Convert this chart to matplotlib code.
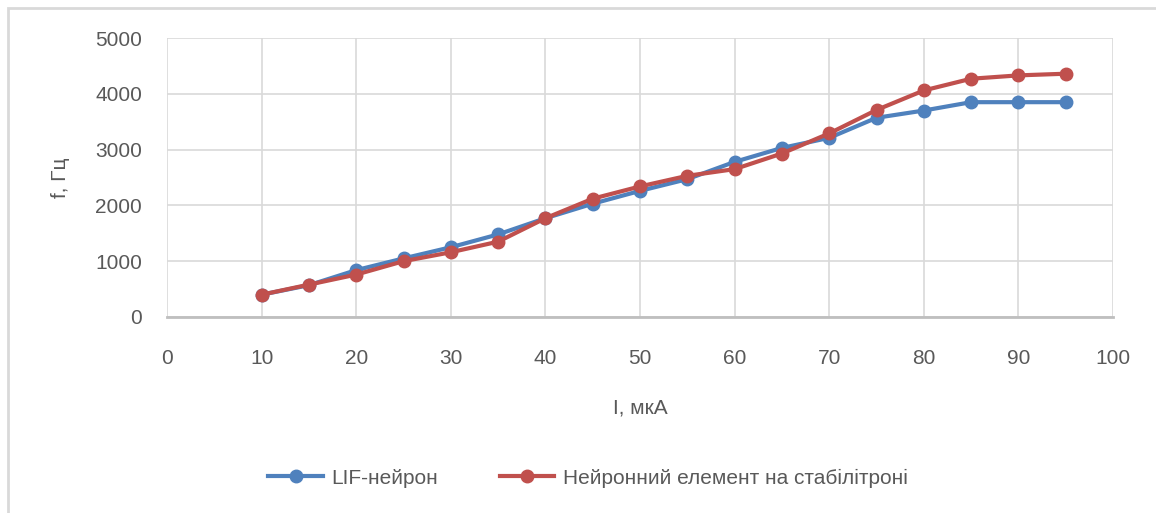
import matplotlib
matplotlib.use("Agg")
import matplotlib.pyplot as plt
from matplotlib.patches import Rectangle

# Current, uA
current = [10, 15, 20, 25, 30, 35, 40, 45, 50, 55, 60, 65, 70, 75, 80, 85, 90, 95]
# LIF-neuron frequency, Hz
lif_freq = [400, 570, 840, 1050, 1250, 1480, 1770, 2030, 2260, 2470, 2780, 3030, 3210, 3570, 3700, 3850, 3850, 3850]
# Zener-diode neuron element frequency, Hz
zener_freq = [400, 580, 760, 1000, 1160, 1350, 1770, 2120, 2340, 2530, 2650, 2930, 3290, 3710, 4060, 4270, 4330, 4360]

x_ticks = [0, 10, 20, 30, 40, 50, 60, 70, 80, 90, 100]
y_ticks = [0, 1000, 2000, 3000, 4000, 5000]

W, H = 1156, 513
fig = plt.figure(figsize=(W / 100, H / 100), dpi=100)
plt.rcParams["font.family"] = ["Liberation Sans", "DejaVu Sans"]

# chart frame (right/bottom edges fall outside the crop)
fig.patches.append(Rectangle((8 / W, -0.1), 1.2, 1 - 8 / H + 0.1, transform=fig.transFigure,
                             fill=False, edgecolor="#D9D9D9", linewidth=2))

left, right, top, bottom = 167, 1113, 38, 317
ax = fig.add_axes([left / W, 1 - bottom / H, (right - left) / W, (bottom - top) / H])

blue = "#4F81BD"
red = "#C0504D"
ax.plot(current, lif_freq, color=blue, lw=3, marker="o", ms=9, label="LIF-нейрон", zorder=3)
ax.plot(current, zener_freq, color=red, lw=3, marker="o", ms=9,
        label="Нейронний елемент на стабілітроні", zorder=4)

ax.set_xlim(0, 100)
ax.set_ylim(0, 5000)
ax.set_xticks(x_ticks)
ax.set_yticks(y_ticks)
ax.grid(True, color="#D9D9D9", linewidth=1.2)
ax.set_axisbelow(True)
for side in ["top", "right", "left"]:
    ax.spines[side].set_visible(False)
ax.spines["bottom"].set_color("#BFBFBF")
ax.spines["bottom"].set_linewidth(2)
ax.tick_params(length=0, labelsize=15, labelcolor="#595959")
ax.tick_params(axis="x", pad=23)
ax.tick_params(axis="y", pad=18)

ax.set_xlabel("I, мкА", fontsize=15, color="#595959", labelpad=22)
ax.set_ylabel("f, Гц", fontsize=15, color="#595959", labelpad=18)

leg = fig.legend(loc="center", bbox_to_anchor=(588 / W, 1 - 478 / H), ncol=2, frameon=False,
                 fontsize=15, handlelength=2.6, columnspacing=3.0, handletextpad=0.4)
for t in leg.get_texts():
    t.set_color("#595959")

fig.savefig("out.png", dpi=100)
